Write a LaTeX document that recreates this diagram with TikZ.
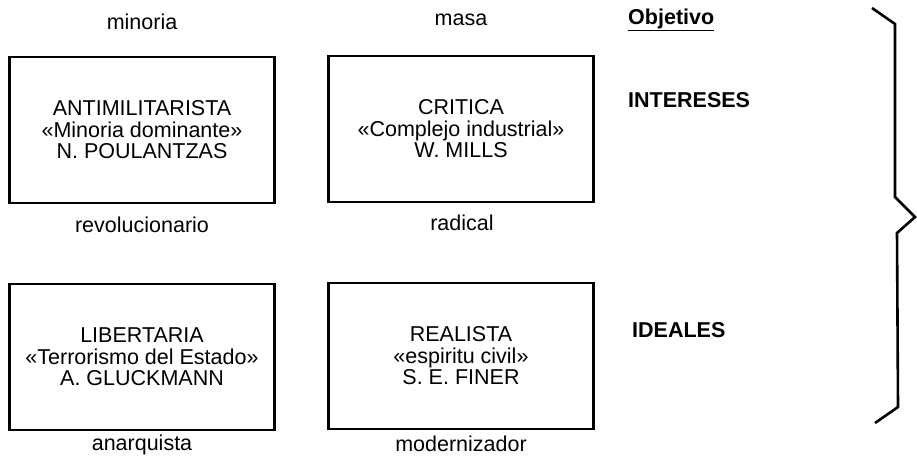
\documentclass[tikz,border=0pt]{standalone}
\usepackage{fontspec}
\setmainfont{Liberation Sans}
\begin{document}
\begin{tikzpicture}[x=1pt,y=-1pt,
  txt/.style={font=\fontsize{21.5}{21.5}\selectfont, inner sep=0pt, text=black},
  boxnode/.style={txt, draw=black, line width=2.6pt, minimum width=265pt, minimum height=146pt, align=center},
  head/.style={txt, font=\fontsize{21.5}{21.5}\selectfont\bfseries, anchor=west},
  bracepath/.style={draw=black, line width=2.6pt, line join=miter, line cap=butt}]
\useasboundingbox (0,0) rectangle (917,457);

\node[boxnode] (anti) at (142,130) {ANTIMILITARISTA\\«Minoria dominante»\\N. POULANTZAS};
\node[boxnode] (crit) at (461,129) {CRITICA\\«Complejo industrial»\\W. MILLS};
\node[boxnode] (libe) at (142,357) {LIBERTARIA\\«Terrorismo del Estado»\\A. GLUCKMANN};
\node[boxnode] (real) at (461,356) {REALISTA\\«espiritu civil»\\S. E. FINER};

\node[txt] (minoria) at (142,22) {minoria};
\node[txt] (masa) at (461,20) {masa};
\node[txt] (revol) at (142,225) {revolucionario};
\node[txt] (radical) at (462,223) {radical};
\node[txt] (anarq) at (142,445) {anarquista};
\node[txt] (moder) at (461,444) {modernizador};

\node[head] (obj) at (628,20) {\underline{Objetivo}};
\node[head] (inter) at (628,100) {INTERESES};
\node[head] (ideal) at (632,330) {IDEALES};

\coordinate (b1) at (872,8);
\coordinate (b2) at (895,24);
\coordinate (b3) at (895,197);
\coordinate (b4) at (915,217);
\coordinate (b5) at (897,233);
\coordinate (b6) at (898,407);
\coordinate (b7) at (875,423);
\draw[bracepath] (b1) -- (b2) -- (b3) -- (b4) -- (b5) -- (b6) -- (b7);
\end{tikzpicture}
\end{document}
